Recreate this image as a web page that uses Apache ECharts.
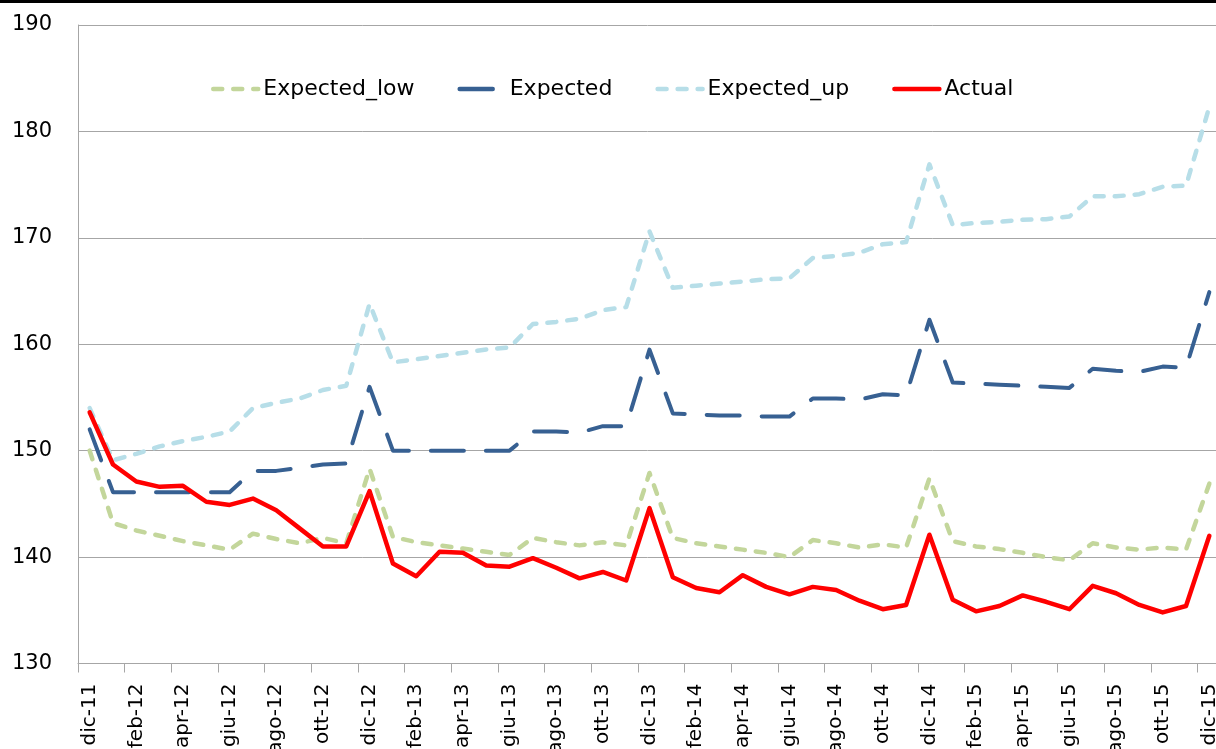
<!DOCTYPE html>
<html>
<head>
<meta charset="utf-8">
<script src="https://cdn.jsdelivr.net/npm/echarts@6/dist/echarts.min.js"></script>
<style>
  html, body { margin: 0; padding: 0; background: #fff; }
  #chart { width: 1216px; height: 749px; }
  #topline { position: absolute; left: 0; top: 0; width: 1216px; height: 3px; background: #000; }
</style>
</head>
<body>
<div id="chart"></div>
<div id="topline"></div>
<script>
const categories = [
  'dic-11',
  'gen-12','feb-12','mar-12','apr-12','mag-12','giu-12','lug-12','ago-12','set-12','ott-12','nov-12','dic-12',
  'gen-13','feb-13','mar-13','apr-13','mag-13','giu-13','lug-13','ago-13','set-13','ott-13','nov-13','dic-13',
  'gen-14','feb-14','mar-14','apr-14','mag-14','giu-14','lug-14','ago-14','set-14','ott-14','nov-14','dic-14',
  'gen-15','feb-15','mar-15','apr-15','mag-15','giu-15','lug-15','ago-15','set-15','ott-15','nov-15','dic-15'
];

const expectedLow = [
  150.0,
  143.2, 142.5, 142.0, 141.5, 141.1, 140.7, 142.2, 141.7, 141.3, 141.8, 141.3, 148.3,
  141.9, 141.4, 141.1, 140.8, 140.5, 140.2, 141.8, 141.4, 141.1, 141.4, 141.1, 147.9,
  141.8, 141.3, 141.0, 140.7, 140.4, 140.0, 141.6, 141.3, 140.9, 141.2, 140.9, 147.4,
  141.5, 141.0, 140.75, 140.4, 140.0, 139.7, 141.3, 140.9, 140.7, 140.9, 140.7, 146.9
];

const expected = [
  152.0,
  146.1, 146.1, 146.1, 146.1, 146.1, 146.1, 148.1, 148.1, 148.4, 148.7, 148.8, 156.0,
  150.0, 150.0, 150.0, 150.0, 150.0, 150.0, 151.8, 151.8, 151.7, 152.3, 152.3, 159.5,
  153.5, 153.4, 153.3, 153.3, 153.2, 153.2, 154.9, 154.9, 154.8, 155.3, 155.2, 162.3,
  156.4, 156.3, 156.2, 156.1, 156.0, 155.9, 157.7, 157.5, 157.4, 157.9, 157.8, 164.9
];

const expectedUp = [
  154.0,
  149.1, 149.7, 150.4, 150.9, 151.3, 151.8, 154.0, 154.5, 154.9, 155.7, 156.1, 163.8,
  158.3, 158.6, 158.9, 159.2, 159.5, 159.7, 161.9, 162.1, 162.4, 163.2, 163.5, 170.6,
  165.3, 165.5, 165.7, 165.9, 166.1, 166.2, 168.1, 168.3, 168.6, 169.4, 169.6, 176.9,
  171.2, 171.4, 171.5, 171.7, 171.75, 172.0, 173.9, 173.9, 174.1, 174.8, 174.9, 182.3
];

const actual = [
  153.6,
  148.7, 147.1, 146.6, 146.7, 145.2, 144.9, 145.5, 144.4, 142.7, 141.0, 141.0, 146.2,
  139.4, 138.2, 140.5, 140.4, 139.2, 139.1, 139.9, 139.0, 138.0, 138.6, 137.8, 144.6,
  138.1, 137.1, 136.7, 138.3, 137.2, 136.5, 137.2, 136.9, 135.9, 135.1, 135.5, 142.1,
  136.0, 134.9, 135.4, 136.4, 135.8, 135.1, 137.3, 136.6, 135.5, 134.8, 135.4, 142.0
];

const seriesNames = ['Expected_low', 'Expected', 'Expected_up', 'Actual'];
const yTicks = { min: 130, max: 190, interval: 10 };

const FONT = 'DejaVu Sans';
const chart = echarts.init(document.getElementById('chart'), null, { renderer: 'canvas' });

function lineSeries(name, data, color, width, dash, z) {
  return {
    name: name,
    type: 'line',
    data: data,
    symbol: 'none',
    showSymbol: false,
    smooth: false,
    z: z,
    lineStyle: { color: color, width: width, type: dash, cap: 'round', join: 'round' },
    itemStyle: { color: color },
    emphasis: { disabled: true }
  };
}

chart.setOption({
  animation: false,
  backgroundColor: '#ffffff',
  textStyle: { fontFamily: FONT },
  grid: {
    left: 78, top: 25, width: 1143, height: 638.5,
    containLabel: false, outerBoundsMode: 'none'
  },
  legend: {
    data: seriesNames,
    left: 211, top: 76,
    padding: 0,
    itemWidth: 45, itemHeight: 14, itemGap: 43,
    itemStyle: { opacity: 0 },
    lineStyle: { width: 4.5, cap: 'round' },
    textStyle: { fontFamily: FONT, fontSize: 22, color: '#000', lineHeight: 26 }
  },
  xAxis: {
    type: 'category',
    data: categories,
    boundaryGap: true,
    axisLine: { show: true, lineStyle: { color: '#A6A6A6', width: 1 } },
    axisTick: { show: true, interval: 1, length: 9, lineStyle: { color: '#A6A6A6', width: 1 } },
    axisLabel: { interval: 1, rotate: 90, margin: 20, fontFamily: FONT, fontSize: 20, color: '#000' },
    splitLine: { show: false }
  },
  yAxis: {
    type: 'value',
    min: yTicks.min, max: yTicks.max, interval: yTicks.interval,
    axisLine: { show: true, lineStyle: { color: '#A6A6A6', width: 1 } },
    axisTick: { show: false },
    axisLabel: { margin: 26, fontFamily: FONT, fontSize: 21, color: '#000' },
    splitLine: { show: true, lineStyle: { color: '#A6A6A6', width: 1 } }
  },
  series: [
    lineSeries(seriesNames[0], expectedLow, '#C3D69B', 4.5, [9, 11], 2),
    lineSeries(seriesNames[1], expected, '#376092', 4, [33, 22], 3),
    lineSeries(seriesNames[2], expectedUp, '#B7DEE8', 4.5, [9, 11], 2),
    lineSeries(seriesNames[3], actual, '#FF0000', 4.5, 'solid', 4)
  ]
});
</script>
</body>
</html>
